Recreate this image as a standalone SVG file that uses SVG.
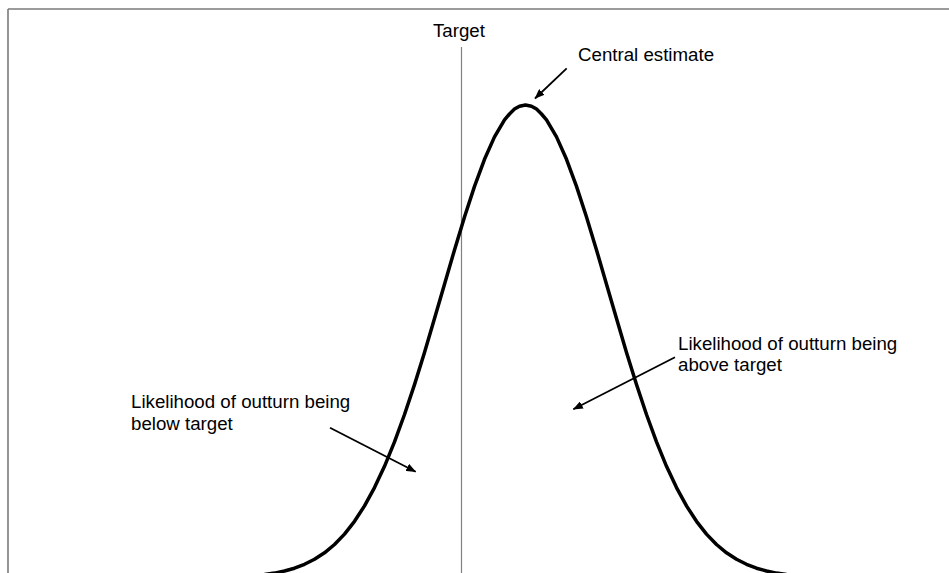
<svg xmlns="http://www.w3.org/2000/svg" width="949" height="573" viewBox="0 0 949 573">
<style>
.frame{stroke:#7a7a7a;stroke-width:1.6;fill:none}
.target{stroke:#808080;stroke-width:1.2;fill:none}
.curve{stroke:#000;stroke-width:3.5;fill:none;stroke-linejoin:round;stroke-linecap:butt}
.arrow{stroke:#000;stroke-width:1.8;fill:none;marker-end:url(#ah)}
text{font-family:"Liberation Sans",Arial,sans-serif;font-size:18.7px;fill:#000}
</style>
<defs>
<marker id="ah" viewBox="0 0 10 8" refX="9.5" refY="4" markerWidth="10" markerHeight="8" markerUnits="userSpaceOnUse" orient="auto">
<path d="M0,0 L10,4 L0,8 Z" fill="#000"/>
</marker>
</defs>
<g id="frame">
<line class="frame" x1="8" y1="9" x2="949" y2="9"/>
<line class="frame" x1="8" y1="9" x2="8" y2="573"/>
</g>
<g id="target">
<line class="target" x1="461.5" y1="47" x2="461.5" y2="573"/>
<text x="433" y="37">Target</text>
</g>
<g id="distribution" transform="translate(1.5,0)">
<polyline class="curve" points="263,574.6 273,573.1 283,571.0 293,568.2 303,564.3 313,559.3 323,552.8 333,544.5 343,534.1 353,521.3 363,505.9 373,487.6 383,466.3 393,441.9 403,414.5 413,384.6 423,352.4 433,318.6 443,284.2 453,249.9 463,217.0 473,186.4 483,159.3 493,136.9 503,119.9 508,114.0 513,109.1 518,106.2 524,105 530,106.2 535,109.1 540,114.0 545,119.9 555,136.9 565,159.3 575,186.4 585,217.0 595,249.9 605,284.2 615,318.6 625,352.4 635,384.6 645,414.5 655,441.9 665,466.3 675,487.6 685,505.9 695,521.3 705,534.1 715,544.5 725,552.8 735,559.3 745,564.3 755,568.2 765,571.0 775,573.1 785,574.6"/>
</g>
<g id="central-estimate">
<text x="578" y="61">Central estimate</text>
</g>
<g id="below-label">
<text x="131" y="408">Likelihood of outturn being</text>
<text x="131" y="430">below target</text>
</g>
<g id="above-label">
<text x="678" y="350">Likelihood of outturn being</text>
<text x="678" y="371">above target</text>
</g>
<g id="connectors">
<line class="arrow" x1="566.7" y1="68.3" x2="535" y2="98.5"/>
<line class="arrow" x1="330" y1="427.7" x2="415.7" y2="471.7"/>
<line class="arrow" x1="675" y1="357.3" x2="573.3" y2="409.3"/>
</g>
</svg>
